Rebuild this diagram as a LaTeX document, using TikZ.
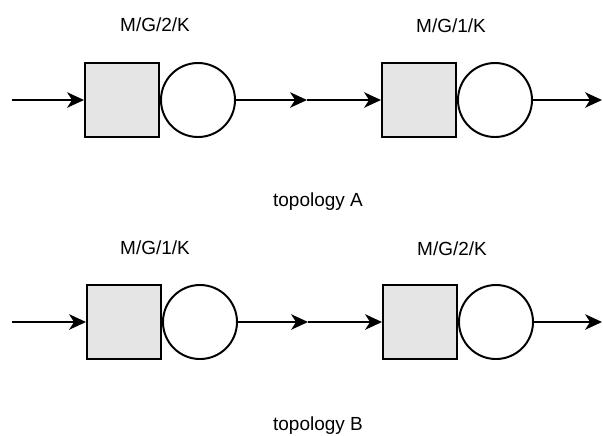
\documentclass[tikz,border=0pt]{standalone}
\usepackage{fontspec}
\setmainfont{Liberation Sans}
\usetikzlibrary{arrows.meta, positioning}

\tikzset{
  buffer/.style={draw=black, line width=1.4pt, fill=black!10, minimum size=1.85cm, inner sep=0pt},
  server/.style={draw=black, line width=1.4pt, fill=white, circle, minimum size=1.85cm, inner sep=0pt},
  flow/.style={line width=1.4pt, -{Stealth[length=12pt, width=11pt, inset=3.5pt]}},
  qlabel/.style={font=\fontsize{13.5}{16}\selectfont, inner sep=0pt}
}

\begin{document}
\begin{tikzpicture}[x=0.025cm, y=-0.025cm]
\useasboundingbox (0,0) rectangle (603,435);

% topology A
\node[buffer] (bufA1) at (122,100) {};
\node[server, right=0pt of bufA1] (srvA1) {};
\node[buffer] (bufA2) at (419,100) {};
\node[server, right=0pt of bufA2] (srvA2) {};
\node[qlabel] (labA1) at (155,25) {M/G/2/K};
\node[qlabel] (labA2) at (451,26) {M/G/1/K};
\node[qlabel] (topoA) at (318,202) {topology A};

\coordinate (inA) at (12,100);
\coordinate (midA) at (307,100);
\coordinate (outA) at (602,100);
\draw[flow] (inA) -- (bufA1);
\draw[flow] (srvA1) -- (midA);
\draw[flow] (midA) -- (bufA2);
\draw[flow] (srvA2) -- (outA);

% topology B
\node[buffer] (bufB1) at (124,322) {};
\node[server, right=0pt of bufB1] (srvB1) {};
\node[buffer] (bufB2) at (420,322) {};
\node[server, right=0pt of bufB2] (srvB2) {};
\node[qlabel] (labB1) at (155,248) {M/G/1/K};
\node[qlabel] (labB2) at (452,249) {M/G/2/K};
\node[qlabel] (topoB) at (318,426) {topology B};

\coordinate (inB) at (12,322);
\coordinate (midB) at (308,322);
\coordinate (outB) at (602,322);
\draw[flow] (inB) -- (bufB1);
\draw[flow] (srvB1) -- (midB);
\draw[flow] (midB) -- (bufB2);
\draw[flow] (srvB2) -- (outB);

\end{tikzpicture}
\end{document}
